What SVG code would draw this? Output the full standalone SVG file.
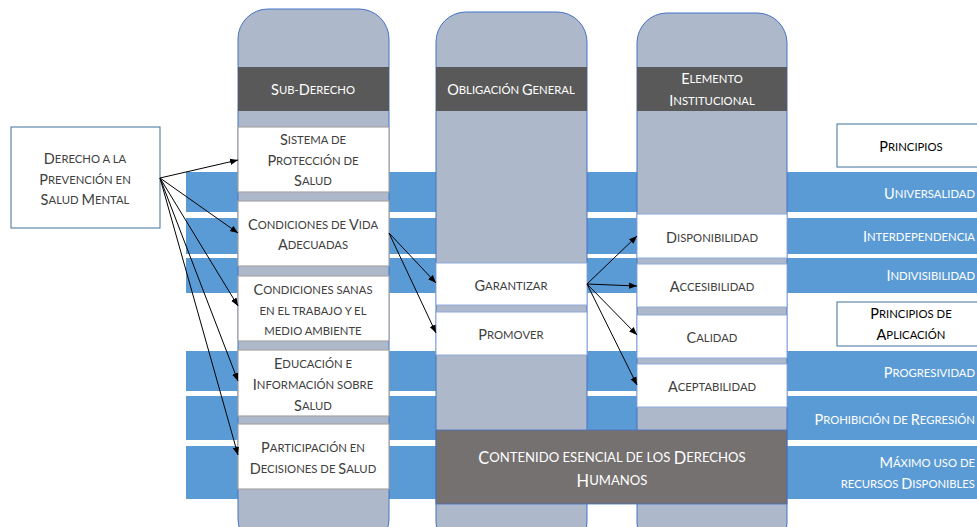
<svg xmlns="http://www.w3.org/2000/svg" width="977" height="527" viewBox="0 0 977 527">
<style>
text{font-family:Lato,"Open Sans","Liberation Sans",sans-serif;font-size:11.3px;text-anchor:middle;dominant-baseline:central}
.c{font-size:14.5px}
.big{font-size:13.1px}
.big .c{font-size:16.4px}
.band{fill:#5B9BD5}
.bt{fill:#fff;text-anchor:end}
.col{fill:#ADB9CA;stroke:#4472C4;stroke-width:1}
.hdr{fill:#595959}
.ht{fill:#fff}
.wb{fill:#fff;stroke:#A6A6A6;stroke-width:1.2}
.wb2{fill:#fff;stroke:#8FAADC;stroke-width:1}
.dt{fill:#404040}
.pb{fill:#fff;stroke:#41719C;stroke-width:1}
.pt{fill:#000}
.ln{stroke:#000;stroke-width:1;fill:none;marker-end:url(#ah)}
</style>
<defs>
<marker id="ah" viewBox="0 0 10 10" refX="10" refY="5" markerWidth="8" markerHeight="8" markerUnits="userSpaceOnUse" orient="auto">
<path d="M0,1 L10,5 L0,9 z" fill="#000"/>
</marker>
</defs>
<g id="bands">
<rect class="band" x="186" y="172" width="791" height="40"/>
<rect class="band" x="186" y="218" width="791" height="36"/>
<rect class="band" x="186" y="258" width="791" height="35"/>
<rect class="band" x="186" y="351" width="791" height="40"/>
<rect class="band" x="186" y="396" width="791" height="44"/>
<rect class="band" x="186" y="446" width="791" height="53"/>
<text class="bt" x="975" y="193"><tspan class="c">U</tspan>NIVERSALIDAD</text>
<text class="bt" x="975" y="236"><tspan class="c">I</tspan>NTERDEPENDENCIA</text>
<text class="bt" x="975" y="275"><tspan class="c">I</tspan>NDIVISIBILIDAD</text>
<text class="bt" x="975" y="372"><tspan class="c">P</tspan>ROGRESIVIDAD</text>
<text class="bt" x="975" y="419"><tspan class="c">P</tspan>ROHIBICIÓN DE <tspan class="c">R</tspan>EGRESIÓN</text>
<text class="bt" x="975" y="462"><tspan class="c">M</tspan>ÁXIMO USO DE</text>
<text class="bt" x="975" y="483">RECURSOS <tspan class="c">D</tspan>ISPONIBLES</text>
</g>
<g id="col1">
<rect class="col" x="238" y="9" width="151" height="540" rx="30"/>
<rect class="hdr" x="238" y="67" width="151" height="44"/>
<text class="ht" x="313" y="89"><tspan class="c">S</tspan>UB-<tspan class="c">D</tspan>ERECHO</text>
</g>
<g id="col2">
<rect class="col" x="436" y="12" width="151" height="540" rx="30"/>
<rect class="hdr" x="436" y="67" width="151" height="44"/>
<text class="ht" x="511" y="89"><tspan class="c">O</tspan>BLIGACIÓN <tspan class="c">G</tspan>ENERAL</text>
</g>
<g id="col3">
<rect class="col" x="637" y="13" width="150" height="540" rx="30"/>
<rect class="hdr" x="637" y="67" width="150" height="44"/>
<text class="ht" x="712" y="78"><tspan class="c">E</tspan>LEMENTO</text>
<text class="ht" x="712" y="100"><tspan class="c">I</tspan>NSTITUCIONAL</text>
</g>
<g id="sub1"><rect class="wb" x="238" y="127" width="151" height="65"/>
<text class="dt" x="313" y="139"><tspan class="c">S</tspan>ISTEMA DE</text><text class="dt" x="313" y="160"><tspan class="c">P</tspan>ROTECCIÓN DE</text><text class="dt" x="313" y="180"><tspan class="c">S</tspan>ALUD</text></g>
<g id="sub2"><rect class="wb" x="238" y="201" width="151" height="65"/>
<text class="dt" x="313" y="224"><tspan class="c">C</tspan>ONDICIONES DE <tspan class="c">V</tspan>IDA</text><text class="dt" x="313" y="244"><tspan class="c">A</tspan>DECUADAS</text></g>
<g id="sub3"><rect class="wb" x="238" y="276" width="151" height="65"/>
<text class="dt" x="313" y="289"><tspan class="c">C</tspan>ONDICIONES SANAS</text><text class="dt" x="313" y="310">EN EL TRABAJO Y EL</text><text class="dt" x="313" y="330">MEDIO AMBIENTE</text></g>
<g id="sub4"><rect class="wb" x="238" y="350" width="151" height="66"/>
<text class="dt" x="313" y="363"><tspan class="c">E</tspan>DUCACIÓN E</text><text class="dt" x="313" y="384"><tspan class="c">I</tspan>NFORMACIÓN SOBRE</text><text class="dt" x="313" y="405"><tspan class="c">S</tspan>ALUD</text></g>
<g id="sub5"><rect class="wb" x="238" y="424" width="151" height="65"/>
<text class="dt" x="313" y="447"><tspan class="c">P</tspan>ARTICIPACIÓN EN</text><text class="dt" x="313" y="468"><tspan class="c">D</tspan>ECISIONES DE <tspan class="c">S</tspan>ALUD</text></g>
<g id="garantizar"><rect class="wb2" x="436" y="263" width="151" height="42"/>
<text class="dt" x="511" y="285"><tspan class="c">G</tspan>ARANTIZAR</text></g>
<g id="promover"><rect class="wb2" x="436" y="312" width="151" height="43"/>
<text class="dt" x="511" y="334"><tspan class="c">P</tspan>ROMOVER</text></g>
<g id="contenido"><rect x="436" y="430" width="351" height="74" fill="#767171" stroke="#4472C4" stroke-width="0.8"/>
<text class="ht big" x="612" y="457"><tspan class="c">C</tspan>ONTENIDO ESENCIAL DE LOS <tspan class="c">D</tspan>ERECHOS</text><text class="ht big" x="612" y="480"><tspan class="c">H</tspan>UMANOS</text></g>
<g id="disp"><rect class="wb2" x="637" y="214" width="150" height="44"/>
<text class="dt" x="712" y="237"><tspan class="c">D</tspan>ISPONIBILIDAD</text></g>
<g id="acces"><rect class="wb2" x="637" y="264" width="150" height="43"/>
<text class="dt" x="712" y="286"><tspan class="c">A</tspan>CCESIBILIDAD</text></g>
<g id="calidad"><rect class="wb2" x="637" y="315" width="150" height="43"/>
<text class="dt" x="712" y="337"><tspan class="c">C</tspan>ALIDAD</text></g>
<g id="acept"><rect class="wb2" x="637" y="364" width="150" height="43"/>
<text class="dt" x="712" y="386"><tspan class="c">A</tspan>CEPTABILIDAD</text></g>
<g id="principios"><rect class="pb" x="837" y="124" width="150" height="43"/>
<text class="pt" x="911" y="146"><tspan class="c">P</tspan>RINCIPIOS</text></g>
<g id="aplicacion"><rect class="pb" x="837" y="302" width="150" height="44"/>
<text class="pt" x="911" y="313"><tspan class="c">P</tspan>RINCIPIOS DE</text><text class="pt" x="911" y="334"><tspan class="c">A</tspan>PLICACIÓN</text></g>
<g id="derecho"><rect class="pb" x="11" y="127" width="149" height="101"/>
<text class="dt" x="85" y="158"><tspan class="c">D</tspan>ERECHO A LA</text><text class="dt" x="85" y="179"><tspan class="c">P</tspan>REVENCIÓN EN</text><text class="dt" x="85" y="199"><tspan class="c">S</tspan>ALUD <tspan class="c">M</tspan>ENTAL</text></g>
<g id="connectors">
<line class="ln" x1="160" y1="178" x2="238" y2="160"/>
<line class="ln" x1="160" y1="178" x2="238" y2="233"/>
<line class="ln" x1="160" y1="178" x2="238" y2="306"/>
<line class="ln" x1="160" y1="178" x2="238" y2="381"/>
<line class="ln" x1="160" y1="178" x2="238" y2="455"/>
<line class="ln" x1="389" y1="233" x2="436" y2="283"/>
<line class="ln" x1="389" y1="233" x2="436" y2="333"/>
<line class="ln" x1="587" y1="284" x2="637" y2="236"/>
<line class="ln" x1="587" y1="284" x2="637" y2="286"/>
<line class="ln" x1="587" y1="284" x2="637" y2="335"/>
<line class="ln" x1="587" y1="284" x2="637" y2="385"/>
</g>
</svg>
